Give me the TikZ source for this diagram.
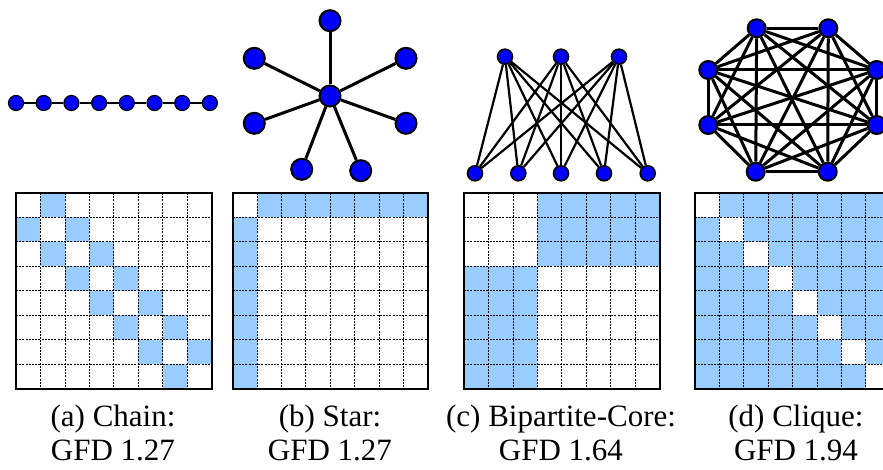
\documentclass[tikz,border=0pt]{standalone}
\usepackage{fontspec}
\setmainfont{Liberation Serif}
\usetikzlibrary{calc}

\definecolor{cellblue}{RGB}{153,204,255}
\definecolor{vtxblue}{RGB}{0,0,255}
\newcommand{\cellsz}{24.45}
% dashed grid and frame of one 8x8 matrix, left edge at #1
\newcommand{\matgrid}[1]{%
  \foreach \k in {1,...,7} {
    \draw[griddash] ({#1+\k*\cellsz},193) -- +(0,195.6);
    \draw[griddash] (#1,{193+\k*\cellsz}) -- +(195.6,0);
  }
  \draw[matframe] (#1,193) rectangle +(195.6,195.6);
}

\begin{document}
\begin{tikzpicture}[x=0.5pt, y=-0.5pt,
    vtx/.style={circle, draw=black, fill=vtxblue, inner sep=0pt, minimum size=#1},
    vtx/.default=7.5pt,
    edge/.style={draw=black, line width=#1},
    edge/.default=1pt,
    cellfill/.style={fill=cellblue},
    griddash/.style={black, line width=0.4pt, dash pattern=on 1pt off 0.6pt},
    matframe/.style={black, line width=1pt},
    caption/.style={align=center, inner sep=0pt, font={\fontsize{15.5pt}{17pt}\selectfont}},
  ]
  \useasboundingbox (0,0) rectangle (883,470);

  % (a) chain
  \foreach \i in {1,...,8}
    \node[vtx=7.5pt, line width=0.6pt] (c\i) at ({16+27.7*(\i-1)},103) {};
  \foreach \a/\b in {1/2,2/3,3/4,4/5,5/6,6/7,7/8}
    \draw[edge=0.8pt] (c\a) -- (c\b);

  % (b) star
  \node[vtx=10.5pt, line width=1pt] (s0) at (330,96) {};
  \node[vtx=10.5pt, line width=1pt] (s1) at (330,20.7) {};
  \node[vtx=10.5pt, line width=1pt] (s2) at (406,58.3) {};
  \node[vtx=10.5pt, line width=1pt] (s3) at (406,123.3) {};
  \node[vtx=10.5pt, line width=1pt] (s4) at (360.7,170.7) {};
  \node[vtx=10.5pt, line width=1pt] (s5) at (301.7,169.3) {};
  \node[vtx=10.5pt, line width=1pt] (s6) at (254.3,123.3) {};
  \node[vtx=10.5pt, line width=1pt] (s7) at (254.3,58.3) {};
  \foreach \i in {1,...,7}
    \draw[edge=1.5pt] (s0) -- (s\i);

  % (c) bipartite core
  \foreach \i/\x in {1/505,2/561,3/619}
    \node[vtx=7.5pt, line width=0.8pt] (t\i) at (\x,56.7) {};
  \foreach \i/\x in {1/475,2/518.3,3/561,4/604,5/647.7}
    \node[vtx=7.5pt, line width=0.8pt] (u\i) at (\x,173.3) {};
  \foreach \a in {1,2,3}
    \foreach \b in {1,...,5}
      \draw[edge=1.1pt] (t\a) -- (u\b);

  % (d) clique
  \node[vtx=9pt, line width=1pt] (q1) at (756.7,28.3) {};
  \node[vtx=9pt, line width=1pt] (q2) at (828.3,28.3) {};
  \node[vtx=9pt, line width=1pt] (q3) at (876.7,70) {};
  \node[vtx=9pt, line width=1pt] (q4) at (876.7,125) {};
  \node[vtx=9pt, line width=1pt] (q5) at (827.7,171.7) {};
  \node[vtx=9pt, line width=1pt] (q6) at (755.7,171.7) {};
  \node[vtx=9pt, line width=1pt] (q7) at (708.3,125) {};
  \node[vtx=9pt, line width=1pt] (q8) at (708.3,70) {};
  \foreach \a in {1,...,8}
    \foreach \b in {1,...,8} {
      \ifnum\a<\b \draw[edge=1.5pt] (q\a) -- (q\b); \fi
    }

  % matrices
  \foreach \r in {0,...,7}
    \foreach \c in {0,...,7} {
      \pgfmathtruncatemacro\dd{abs(\r-\c)}
      % chain: off-diagonal band
      \ifnum\dd=1 \fill[cellfill] ({16+\c*\cellsz},{193+\r*\cellsz}) rectangle +(\cellsz,\cellsz); \fi
      % clique: all but diagonal
      \ifnum\dd>0 \fill[cellfill] ({694.7+\c*\cellsz},{193+\r*\cellsz}) rectangle +(\cellsz,\cellsz); \fi
    }
  % star
  \fill[cellfill] ({232.5+\cellsz},193) rectangle +({7*\cellsz},\cellsz);
  \fill[cellfill] (232.5,{193+\cellsz}) rectangle +(\cellsz,{7*\cellsz});
  % bipartite core
  \fill[cellfill] ({464+3*\cellsz},193) rectangle +({5*\cellsz},{3*\cellsz});
  \fill[cellfill] (464,{193+3*\cellsz}) rectangle +({3*\cellsz},{5*\cellsz});

  \matgrid{16}
  \matgrid{232.5}
  \matgrid{464}
  \matgrid{694.7}

  % captions
  \node[caption] (capa) at (113,433) {(a) Chain:\\GFD 1.27};
  \node[caption] (capb) at (330,433) {(b) Star:\\GFD 1.27};
  \node[caption] (capc) at (561,433) {(c) Bipartite-Core:\\GFD 1.64};
  \node[caption] (capd) at (796,433) {(d) Clique:\\GFD 1.94};
\end{tikzpicture}
\end{document}
